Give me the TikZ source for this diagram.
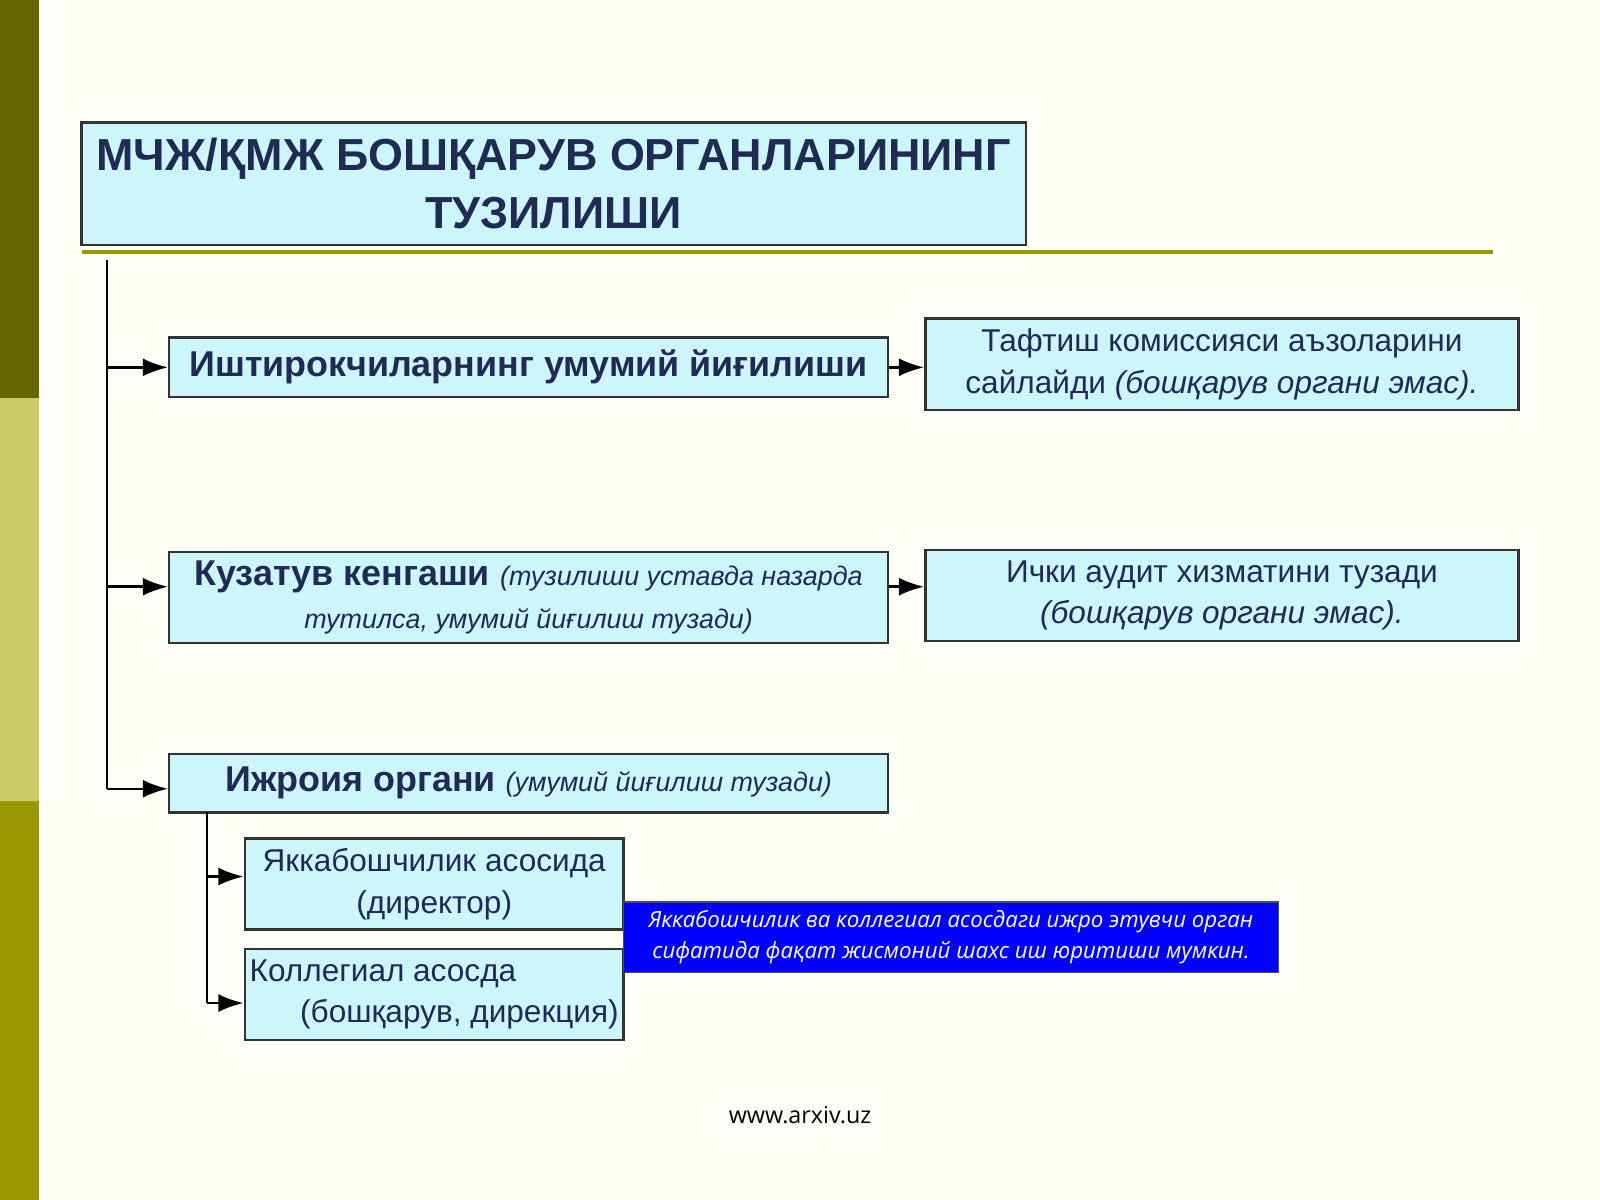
\documentclass[tikz,border=0pt]{standalone}
\usepackage{fontspec}
\setmainfont{Liberation Sans}
\newfontfamily\opensans{Open Sans}
\usetikzlibrary{arrows.meta}
\definecolor{boxc}{HTML}{CCF6FA}
\definecolor{txt}{HTML}{1F2A55}
\definecolor{b1c}{HTML}{666600}\definecolor{b2c}{HTML}{CCCC66}\definecolor{b3c}{HTML}{999900}
\begin{document}
\begin{tikzpicture}[x=0.01cm,y=-0.01cm,
 box/.style={draw=black!80,line width=0.7pt,fill=boxc,text=txt,align=center,inner sep=0pt},
 arr/.style={-{Latex[length=7pt,width=5pt]},line width=0.7pt}]
\useasboundingbox (0,0) rectangle (1568,1176);
\fill[white!97!yellow] (0,0) rectangle (1568,1176);
\fill[b1c] (0,0) rectangle (38,390);
\fill[b2c] (0,390) rectangle (38,785);
\fill[b3c] (0,785) rectangle (38,1176);
\node[box,font=\bfseries\fontsize{12.5}{16}\selectfont,minimum width=9.25cm,minimum height=1.2cm] (t) at (542.5,180) {МЧЖ/ҚМЖ БОШҚАРУВ ОРГАНЛАРИНИНГ\\ТУЗИЛИШИ};
\draw[b3c,line width=1.2pt] (80,247) -- (1463,247);
\node[box,font=\bfseries\fontsize{10}{13}\selectfont,minimum width=7.04cm,minimum height=0.58cm] (b1) at (518,360) {Иштирокчиларнинг умумий йиғилиши};
\node[box,font=\fontsize{8.8}{11.5}\selectfont,minimum width=5.81cm,minimum height=0.9cm] (r1) at (1197.5,357) {Тафтиш комиссияси аъзоларини\\сайлайди \textit{(бошқарув органи эмас).}};
\node[box,minimum width=7.04cm,minimum height=0.89cm] (b2) at (518,585.5) {{\bfseries\fontsize{10}{12}\selectfont Кузатув кенгаши} {\itshape\fontsize{7.5}{10}\selectfont (тузилиши уставда назарда}\\{\itshape\fontsize{7.5}{10}\selectfont тутилса, умумий йиғилиш тузади)}};
\node[box,font=\fontsize{8.8}{11.5}\selectfont,minimum width=5.81cm,minimum height=0.89cm] (r2) at (1197.5,583.5) {Ички аудит хизматини тузади\\\textit{(бошқарув органи эмас).}};
\node[box,minimum width=7.04cm,minimum height=0.57cm] (b3) at (518,767.5) {{\bfseries\fontsize{10}{13}\selectfont Ижроия органи} {\itshape\fontsize{7.5}{10}\selectfont (умумий йиғилиш тузади)}};
\node[box,font=\fontsize{8.8}{11.5}\selectfont,minimum width=3.71cm,minimum height=0.89cm] (s1) at (425.5,866.5) {Яккабошчилик асосида\\(директор)};
\node[box,font=\fontsize{8.8}{11.5}\selectfont,minimum width=3.71cm,minimum height=0.89cm,align=left] (s2) at (425.5,974.5) {Коллегиал асосда\\\hspace{1.6em}(бошқарув, дирекция)};
\node[draw=black!70,fill=blue,text=white,align=center,inner sep=0pt,minimum width=6.42cm,minimum height=0.69cm,font=\opensans\itshape\fontsize{6.2}{8.5}\selectfont] (n) at (932,918.5) {Яккабошчилик ва коллегиал асосдаги ижро этувчи орган\\сифатида фақат жисмоний шахс иш юритиши мумкин.};
\node[font=\opensans\fontsize{6.5}{8}\selectfont] (w) at (784,1093) {www.arxiv.uz};
\coordinate (v0) at (105,255);
\draw[line width=0.7pt] (v0) -- (105,773);
\draw[arr] (105,360) -- (b1.west);
\draw[arr] (105,575) -- (b2.west|-105,575);
\draw[arr] (105,773) -- (b3.west|-105,773);
\draw[arr] (b1.east) -- (r1.west|-b1.east);
\draw[arr] (870,575) -- (r2.west|-870,575);
\draw[line width=0.7pt] (203,796) -- (203,983);
\draw[arr] (203,859) -- (s1.west|-203,859);
\draw[arr] (203,983) -- (s2.west|-203,983);
\end{tikzpicture}
\end{document}
